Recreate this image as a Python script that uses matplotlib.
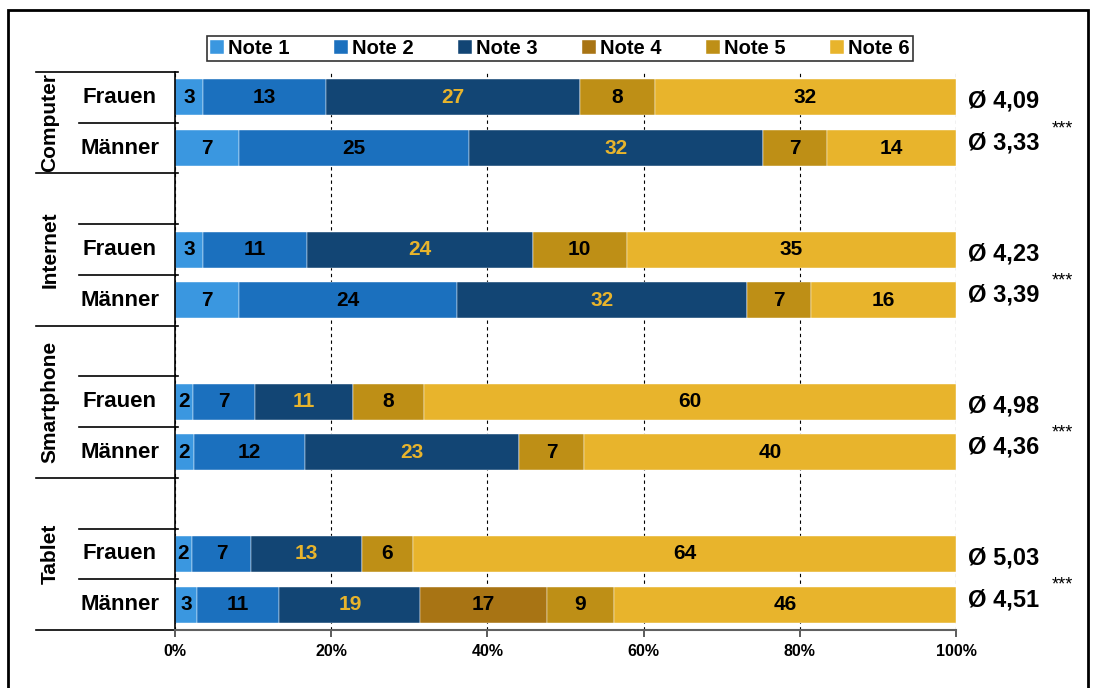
import numpy as np
import matplotlib.pyplot as plt
from matplotlib.patches import Rectangle

plt.rcParams['font.family'] = ['Liberation Sans', 'DejaVu Sans']

groups = ['Computer', 'Internet', 'Smartphone', 'Tablet']
rows = ['Frauen', 'Männer'] * 4
notes = ['Note 1', 'Note 2', 'Note 3', 'Note 4', 'Note 5', 'Note 6']
colors = ['#3A97E0', '#1B70BE', '#124574', '#A87414', '#BE8F16', '#E8B42C']

n1 = [3, 7, 3, 7, 2, 2, 2, 3]
n2 = [13, 25, 11, 24, 7, 12, 7, 11]
n3 = [27, 32, 24, 32, 11, 23, 13, 19]
n4 = [0, 0, 0, 0, 0, 0, 0, 17]
n5 = [8, 7, 10, 7, 8, 7, 6, 9]
n6 = [32, 14, 35, 16, 60, 40, 64, 46]
means = ['4,09', '3,33', '4,23', '3,39', '4,98', '4,36', '5,03', '4,51']
signif = ['***', '***', '***', '***']

data = np.array([n1, n2, n3, n4, n5, n6], dtype=float)
share = data / data.sum(axis=0) * 100
ypos = np.array([0, 1, 3, 4, 6, 7, 9, 10])

fig = plt.figure(figsize=(10.96, 6.88), dpi=100)
ax = fig.add_axes([0.1597, 0.0843, 0.7126, 0.811])

left = np.zeros(len(ypos))
for k in range(6):
    ax.barh(ypos, share[k], left=left, height=0.71, color=colors[k],
            edgecolor='white', linewidth=0.3, label=notes[k], zorder=2)
    for i in range(len(ypos)):
        if data[k, i] > 0:
            tc = '#E8B42C' if k == 2 else 'black'
            ax.text(left[i] + share[k, i] / 2, ypos[i], '%d' % data[k, i],
                    ha='center', va='center', fontsize=15, fontweight='bold',
                    color=tc, zorder=3)
    left += share[k]

ax.set_xlim(0, 100)
ax.set_ylim(10.5, -0.5)
ax.set_xticks([0, 20, 40, 60, 80, 100])
ax.set_xticklabels(['0%', '20%', '40%', '60%', '80%', '100%'],
                   fontsize=11.5, fontweight='bold')
ax.set_yticks([])
ax.xaxis.grid(True, color='black', linestyle=(0, (3, 3)), linewidth=0.8)
ax.set_axisbelow(True)
ax.tick_params(axis='x', length=5, width=1.2, color='#404040', pad=5)
ax.spines['top'].set_visible(False)
ax.spines['right'].set_visible(False)
ax.spines['bottom'].set_color('#606060')
ax.spines['bottom'].set_linewidth(1.5)
ax.spines['left'].set_linewidth(1.2)

# table lines on the left
tr = ax.get_yaxis_transform()
for y in [-0.5, 1.5, 4.5, 7.5, 10.5]:
    ax.plot([-0.178, 0.004], [y, y], color='black', lw=1.2, transform=tr, clip_on=False)
for y in [0.5, 2.5, 3.5, 5.5, 6.5, 8.5, 9.5]:
    ax.plot([-0.123, 0.004], [y, y], color='black', lw=1.2, transform=tr, clip_on=False)

for i, y in enumerate(ypos):
    ax.text(-0.071, y, rows[i], transform=tr, ha='center', va='center',
            fontsize=16, fontweight='bold')

gcent = [0.5, 3.0, 6.0, 9.0]
for g, yc in zip(groups, gcent):
    ax.text(-0.160, yc, g, transform=tr, ha='center', va='center',
            rotation=90, fontsize=15, fontweight='bold')

for i, y in enumerate(ypos):
    off = 0.08 if i % 2 == 0 else -0.1
    ax.text(1.015, y + off, 'Ø ' + means[i], transform=tr, ha='left',
            va='center', fontsize=17, fontweight='bold')

for j in range(4):
    yc = (ypos[2 * j] + ypos[2 * j + 1]) / 2 + 0.12
    ax.text(1.136, yc, signif[j], transform=tr, ha='center', va='center',
            fontsize=13)

leg = ax.legend(loc='lower center', bbox_to_anchor=(0.493, 1.0), ncol=6,
                frameon=True, fancybox=False, edgecolor='black',
                prop={'weight': 'bold', 'size': 14.5}, handlelength=0.7,
                handleheight=0.7, handletextpad=0.2, columnspacing=2.2,
                borderpad=0.15, borderaxespad=0.55)
leg.get_frame().set_linewidth(1.2)

fig.add_artist(Rectangle((8 / 1096, -0.05), 1080 / 1096, 1 - 10 / 688 + 0.05,
                         transform=fig.transFigure, fill=False,
                         edgecolor='black', linewidth=2))

fig.savefig('out.png', dpi=100)
